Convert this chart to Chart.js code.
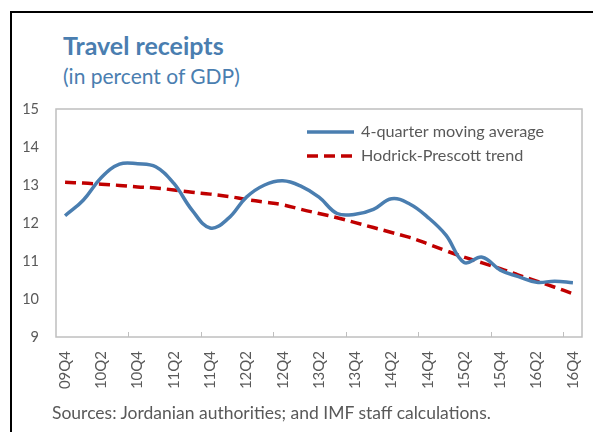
<!DOCTYPE html>
<html>
<head>
<meta charset="utf-8">
<script src="https://cdn.jsdelivr.net/npm/chart.js@4.4.0/dist/chart.umd.min.js"></script>
<style>
  body { margin: 0; background: #fff; }
  #wrap { position: relative; width: 593px; height: 432px; overflow: hidden; font-family: 'Lato', sans-serif; }
  #frame { position: absolute; left: 10px; top: 11px; width: 700px; height: 500px;
           border-top: 2px solid #000; border-left: 2px solid #000; }
  #title { position: absolute; left: 63px; top: 33px; font-size: 25px; font-weight: bold; color: #4a7eb0; line-height: 1; white-space: nowrap; }
  #subtitle { position: absolute; left: 63px; top: 65px; font-size: 21px; color: #4a7eb0; line-height: 1; white-space: nowrap; }
  #note { position: absolute; left: 52px; top: 404px; font-size: 17.5px; color: #595959; line-height: 1; white-space: nowrap; }
  #chart { position: absolute; left: 0; top: 0; }
</style>
</head>
<body>
<div id="wrap">
  <div id="frame"></div>
  <div id="title">Travel receipts</div>
  <div id="subtitle">(in percent of GDP)</div>
  <canvas id="chart" width="593" height="432"></canvas>
  <div id="note">Sources: Jordanian authorities; and IMF staff calculations.</div>
</div>
<script>
// quarters, 09Q4 .. 16Q4
const quarters = [
  '09Q4',
  '10Q1', '10Q2', '10Q3', '10Q4',
  '11Q1', '11Q2', '11Q3', '11Q4',
  '12Q1', '12Q2', '12Q3', '12Q4',
  '13Q1', '13Q2', '13Q3', '13Q4',
  '14Q1', '14Q2', '14Q3', '14Q4',
  '15Q1', '15Q2', '15Q3', '15Q4',
  '16Q1', '16Q2', '16Q3', '16Q4'
];

// 4-quarter moving average
const movingAvg = [
  12.19,
  12.60, 13.20, 13.55, 13.56,
  13.48, 13.04, 12.34, 11.87,
  12.12, 12.68, 13.00, 13.11,
  12.97, 12.68, 12.25, 12.23,
  12.36, 12.64, 12.50, 12.15,
  11.68, 10.96, 11.10, 10.76,
  10.59, 10.44, 10.47, 10.43
];

// Hodrick-Prescott trend
const hpTrend = [
  13.07,
  13.05, 13.02, 12.99, 12.95,
  12.92, 12.87, 12.81, 12.76,
  12.70, 12.62, 12.55, 12.48,
  12.36, 12.25, 12.14, 12.01,
  11.88, 11.75, 11.62, 11.45,
  11.27, 11.10, 10.95, 10.80,
  10.63, 10.47, 10.31, 10.14
];

const yTicks = [9, 10, 11, 12, 13, 14, 15];

const textGray = '#595959';
const axisGray = '#bfbfbf';

// gray box round the plot area
const plotBox = {
  id: 'plotBox',
  beforeDatasetsDraw(chart) {
    const { ctx, chartArea } = chart;
    ctx.save();
    ctx.strokeStyle = axisGray;
    ctx.lineWidth = 1.5;
    ctx.strokeRect(chartArea.left, chartArea.top, chartArea.right - chartArea.left, chartArea.bottom - chartArea.top);
    ctx.restore();
  }
};

// legend drawn inside the plot, top right
const insideLegend = {
  id: 'insideLegend',
  afterDatasetsDraw(chart) {
    const { ctx, chartArea } = chart;
    const x0 = chartArea.left + 251;
    const x1 = x0 + 47;
    const tx = x0 + 54;
    chart.data.datasets.forEach((ds, i) => {
      const y = chartArea.top + 23 + i * 24;
      ctx.save();
      ctx.strokeStyle = ds.borderColor;
      ctx.lineWidth = ds.borderWidth;
      ctx.setLineDash(ds.borderDash || []);
      ctx.beginPath();
      ctx.moveTo(x0, y);
      ctx.lineTo(x1, y);
      ctx.stroke();
      ctx.setLineDash([]);
      ctx.fillStyle = textGray;
      ctx.font = '16.2px Lato';
      ctx.textBaseline = 'middle';
      ctx.fillText(ds.label, tx, y);
      ctx.restore();
    });
  }
};

new Chart(document.getElementById('chart'), {
  type: 'line',
  data: {
    labels: quarters,
    datasets: [
      {
        label: '4-quarter moving average',
        data: movingAvg,
        borderColor: '#4a7eb0',
        borderWidth: 3.5,
        pointRadius: 0,
        tension: 0.4,
        fill: false
      },
      {
        label: 'Hodrick-Prescott trend',
        data: hpTrend,
        borderColor: '#c00000',
        borderWidth: 3.5,
        borderDash: [11, 6],
        pointRadius: 0,
        tension: 0.4,
        fill: false
      }
    ]
  },
  options: {
    responsive: false,
    animation: false,
    layout: { padding: { left: 0, top: 109, right: 11, bottom: 40 } },
    plugins: {
      legend: { display: false },
      title: { display: false },
      tooltip: { enabled: false }
    },
    scales: {
      x: {
        offset: true,
        border: { display: false },
        grid: {
          offset: true,
          drawOnChartArea: false,
          drawTicks: true,
          tickLength: -5,
          lineWidth: 1,
          color: (c) => (c.index > 0 && c.index % 4 === 0) ? axisGray : 'transparent'
        },
        ticks: {
          autoSkip: false,
          minRotation: 90,
          maxRotation: 90,
          padding: 19,
          color: textGray,
          font: { family: 'Lato', size: 15 },
          callback: function (val, idx) { return idx % 2 === 0 ? this.getLabelForValue(val) : ''; }
        },
        afterFit: (s) => { s.height = 55; s.paddingLeft = 0; s.paddingRight = 0; }
      },
      y: {
        min: yTicks[0],
        max: yTicks[yTicks.length - 1],
        border: { display: false },
        grid: { display: false, drawTicks: false },
        afterBuildTicks: (s) => { s.ticks = yTicks.map(v => ({ value: v })); },
        ticks: {
          padding: 17,
          color: textGray,
          font: { family: 'Lato', size: 14.5 }
        },
        afterFit: (s) => { s.width = 56; s.paddingTop = 0; s.paddingBottom = 0; }
      }
    }
  },
  plugins: [plotBox, insideLegend]
});
</script>
</body>
</html>
